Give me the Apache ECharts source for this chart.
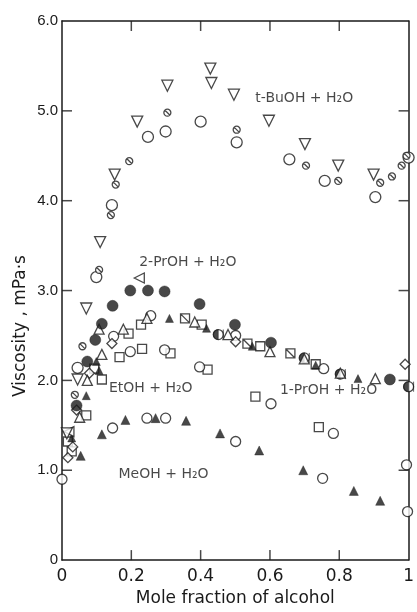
<!DOCTYPE html>
<html>
<head>
<meta charset="utf-8">
<script src="https://cdn.jsdelivr.net/npm/echarts@6/dist/echarts.min.js"></script>
<style>
  html, body { margin: 0; padding: 0; background: #fff; }
  #chart { width: 417px; height: 612px; }
</style>
</head>
<body>
<div id="chart"></div>
<script>
// tick labels and inner tick positions
const xTickLabels = ["0", "0.2", "0.4", "0.6", "0.8", "1"];
const yTickLabels = ["0", "1.0", "2.0", "3.0", "4.0", "5.0", "6.0"];
const xTickValues = [0.2, 0.4, 0.6, 0.8];
const yTickValues = [1, 2, 3, 4, 5];

// t-BuOH + H2O
const tbuTriangle = [[0.014,1.41],[0.045,2.01],[0.070,2.80],[0.110,3.54],[0.152,4.29],[0.217,4.88],[0.304,5.28],[0.428,5.47],[0.431,5.31],[0.496,5.18],[0.597,4.89],[0.701,4.63],[0.797,4.39],[0.899,4.29]];
const tbuHatched = [[0.037,1.84],[0.059,2.38],[0.107,3.23],[0.141,3.84],[0.155,4.18],[0.194,4.44],[0.304,4.98],[0.504,4.79],[0.704,4.39],[0.797,4.22],[0.918,4.20],[0.952,4.27],[0.980,4.39],[0.994,4.50]];
const tbuCircle = [[0.045,2.14],[0.099,3.15],[0.144,3.95],[0.248,4.71],[0.299,4.77],[0.400,4.88],[0.504,4.65],[0.656,4.46],[0.758,4.22],[0.904,4.04],[1.0,4.48]];

// 2-PrOH + H2O
const ipaFilled = [[0.042,1.72],[0.073,2.21],[0.096,2.45],[0.115,2.63],[0.146,2.83],[0.197,3.00],[0.248,3.00],[0.296,2.99],[0.397,2.85],[0.499,2.62],[0.603,2.42],[0.946,2.01]];
const ipaLeftTri = [[0.020,1.43],[0.223,3.14]];

// EtOH + H2O
const etohSquare = [[0.017,1.32],[0.028,1.21],[0.070,1.61],[0.093,2.13],[0.115,2.01],[0.166,2.26],[0.231,2.35],[0.313,2.30],[0.420,2.12],[0.558,1.82],[0.741,1.48]];
const etohCircle = [[0.197,2.32],[0.296,2.34],[0.397,2.15],[0.603,1.74],[0.783,1.41],[0.994,1.06]];

// 1-PrOH + H2O
const prTriangle = [[0.051,1.59],[0.073,2.00],[0.107,2.57],[0.115,2.29],[0.177,2.57],[0.245,2.69],[0.383,2.65],[0.479,2.51],[0.600,2.32],[0.699,2.24],[0.803,2.08],[0.904,2.02]];
const prFilledTri = [[0.028,1.36],[0.070,1.83],[0.099,2.21],[0.107,2.11],[0.310,2.69],[0.417,2.58],[0.549,2.38],[0.732,2.17],[0.854,2.02]];
const prHalf = [[0.451,2.51],[0.699,2.25],[0.803,2.07],[1.0,1.93]];
const prSlashSquare = [[0.355,2.69],[0.535,2.41],[0.659,2.30]];
const prSquare = [[0.192,2.52],[0.228,2.62],[0.403,2.62],[0.572,2.38],[0.732,2.18]];
const prCircle = [[0.149,2.49],[0.256,2.72],[0.501,2.50],[0.755,2.13]];
const prDiamond = [[0.017,1.14],[0.031,1.26],[0.042,1.67],[0.079,2.08],[0.144,2.41],[0.501,2.43],[0.99,2.18]];

// MeOH + H2O
const meohTri = [[0.054,1.16],[0.115,1.40],[0.183,1.56],[0.270,1.58],[0.358,1.55],[0.456,1.41],[0.569,1.22],[0.696,1.00],[0.842,0.77],[0.918,0.66]];
const meohCircle = [[0.0,0.90],[0.146,1.47],[0.245,1.58],[0.299,1.58],[0.501,1.32],[0.752,0.91],[0.997,0.54]];

// curve labels, placed in data units
const curveNames = ["t-BuOH + H₂O", "2-PrOH + H₂O", "EtOH + H₂O", "1-PrOH + H₂O", "MeOH + H₂O"];
const curveNameAt = [[0.699,5.14],[0.363,3.31],[0.256,1.91],[0.769,1.89],[0.293,0.95]];

const INK = "#1a1a1a";
const TICK = 10;
const X_MIN = 0, X_MAX = 1, Y_MIN = 0, Y_MAX = 6;

const SLASH_CIRCLE = "path://M10,5 A5,5 0 1,1 0,5 A5,5 0 1,1 10,5 Z M1.6,1.6 L8.4,8.4";
const SLASH_SQUARE = "path://M0,0 L10,0 L10,10 L0,10 Z M0,0 L10,10";
// left half disk; the hairline strip on the right keeps the box square
const HALF_DISK = "path://M5,0 A5,5 0 0,0 5,10 Z M9.99,0 L10,0 L10,10 L9.99,10 Z";

const open = (name, data, symbol, size, extra) => Object.assign({
  name, type: "scatter", data, symbol, symbolSize: size,
  itemStyle: { color: "#fff", borderColor: INK, borderWidth: 1.3 },
}, extra || {});
const filled = (name, data, symbol, size) => ({
  name, type: "scatter", data, symbol, symbolSize: size,
  itemStyle: { color: INK, borderColor: INK, borderWidth: 0.5 },
});

// inward frame ticks, drawn as thin bars pinned to the axis values
const tickMarks = (name, data, size, offset) => ({
  name, type: "scatter", data, symbol: "rect", symbolSize: size, symbolOffset: offset,
  clip: false, silent: true, z: 5,
  itemStyle: { color: INK, borderWidth: 0 },
});

const frame = () => ({
  axisLine: { show: true, onZero: false, lineStyle: { color: INK, width: 1.5 } },
  axisTick: { show: false },
  splitLine: { show: false },
});

const chart = echarts.init(document.getElementById("chart"));
chart.setOption({
  animation: false,
  backgroundColor: "#fff",
  grid: { left: 62, right: 0, top: 21, bottom: 45 },
  xAxis: [
    Object.assign(frame(), {
      type: "value", min: X_MIN, max: X_MAX, interval: 0.2, position: "bottom",
      axisLabel: { margin: 8, color: INK, fontFamily: "DejaVu Sans", fontSize: 17,
        formatter: (v) => xTickLabels[Math.round(v / 0.2)] },
      name: "Mole fraction of alcohol", nameLocation: "middle", nameGap: 28,
      nameTextStyle: { color: INK, fontFamily: "DejaVu Sans", fontSize: 17 },
    }),
    Object.assign(frame(), {
      type: "value", min: X_MIN, max: X_MAX, interval: 0.2, position: "top",
      axisLabel: { show: false },
    }),
  ],
  yAxis: [
    Object.assign(frame(), {
      type: "value", min: Y_MIN, max: Y_MAX, interval: 1, position: "left",
      axisLabel: { margin: 4, color: INK, fontFamily: "Liberation Sans", fontSize: 15,
        formatter: (v) => yTickLabels[Math.round(v)] },
    }),
    Object.assign(frame(), {
      type: "value", min: Y_MIN, max: Y_MAX, interval: 1, position: "right",
      axisLabel: { show: false },
    }),
  ],
  graphic: [
    {
      type: "text", x: 21, y: 326, rotation: Math.PI / 2,
      style: {
        text: "Viscosity , mPa·s", fill: INK, font: "17px 'DejaVu Sans'",
        align: "center", verticalAlign: "middle",
        textAlign: "center", textVerticalAlign: "middle",
      },
    },
  ],
  series: [
    tickMarks("bottom ticks", xTickValues.map((x) => [x, Y_MIN]), [1.5, TICK], [0, -TICK / 2]),
    tickMarks("top ticks", xTickValues.map((x) => [x, Y_MAX]), [1.5, TICK], [0, TICK / 2]),
    tickMarks("left ticks", yTickValues.map((y) => [X_MIN, y]), [TICK, 1.5], [TICK / 2, 0]),
    tickMarks("right ticks", yTickValues.map((y) => [X_MAX, y]), [TICK, 1.5], [-TICK / 2, 0]),
    open("EtOH squares", etohSquare, "rect", 9),
    open("EtOH circles", etohCircle, "circle", 10),
    open("1-PrOH squares", prSquare, "rect", 9),
    open("1-PrOH slashed squares", prSlashSquare, SLASH_SQUARE, 9),
    open("1-PrOH circles", prCircle, "circle", 10),
    open("1-PrOH half circles", prHalf, "circle", 10),
    filled("1-PrOH half fill", prHalf, HALF_DISK, 10),
    open("1-PrOH diamonds", prDiamond, "diamond", 10),
    open("1-PrOH triangles", prTriangle, "triangle", 10),
    filled("1-PrOH filled triangles", prFilledTri, "triangle", 8),
    filled("2-PrOH filled circles", ipaFilled, "circle", 11),
    open("2-PrOH left triangles", ipaLeftTri, "triangle", 10, { symbolRotate: 90 }),
    open("t-BuOH circles", tbuCircle, "circle", 11),
    open("t-BuOH hatched", tbuHatched, SLASH_CIRCLE, 7),
    open("t-BuOH triangles", tbuTriangle, "triangle", 11, { symbolRotate: 180 }),
    filled("MeOH triangles", meohTri, "triangle", 9),
    open("MeOH circles", meohCircle, "circle", 10),
    {
      name: "curve labels", type: "scatter", symbolSize: 0, silent: true,
      data: curveNameAt.map((p, i) => ({ value: p, name: curveNames[i] })),
      label: {
        show: true, position: "inside", formatter: (p) => p.name,
        color: INK, fontFamily: "DejaVu Sans", fontSize: 14,
      },
    },
  ],
});
</script>
</body>
</html>
